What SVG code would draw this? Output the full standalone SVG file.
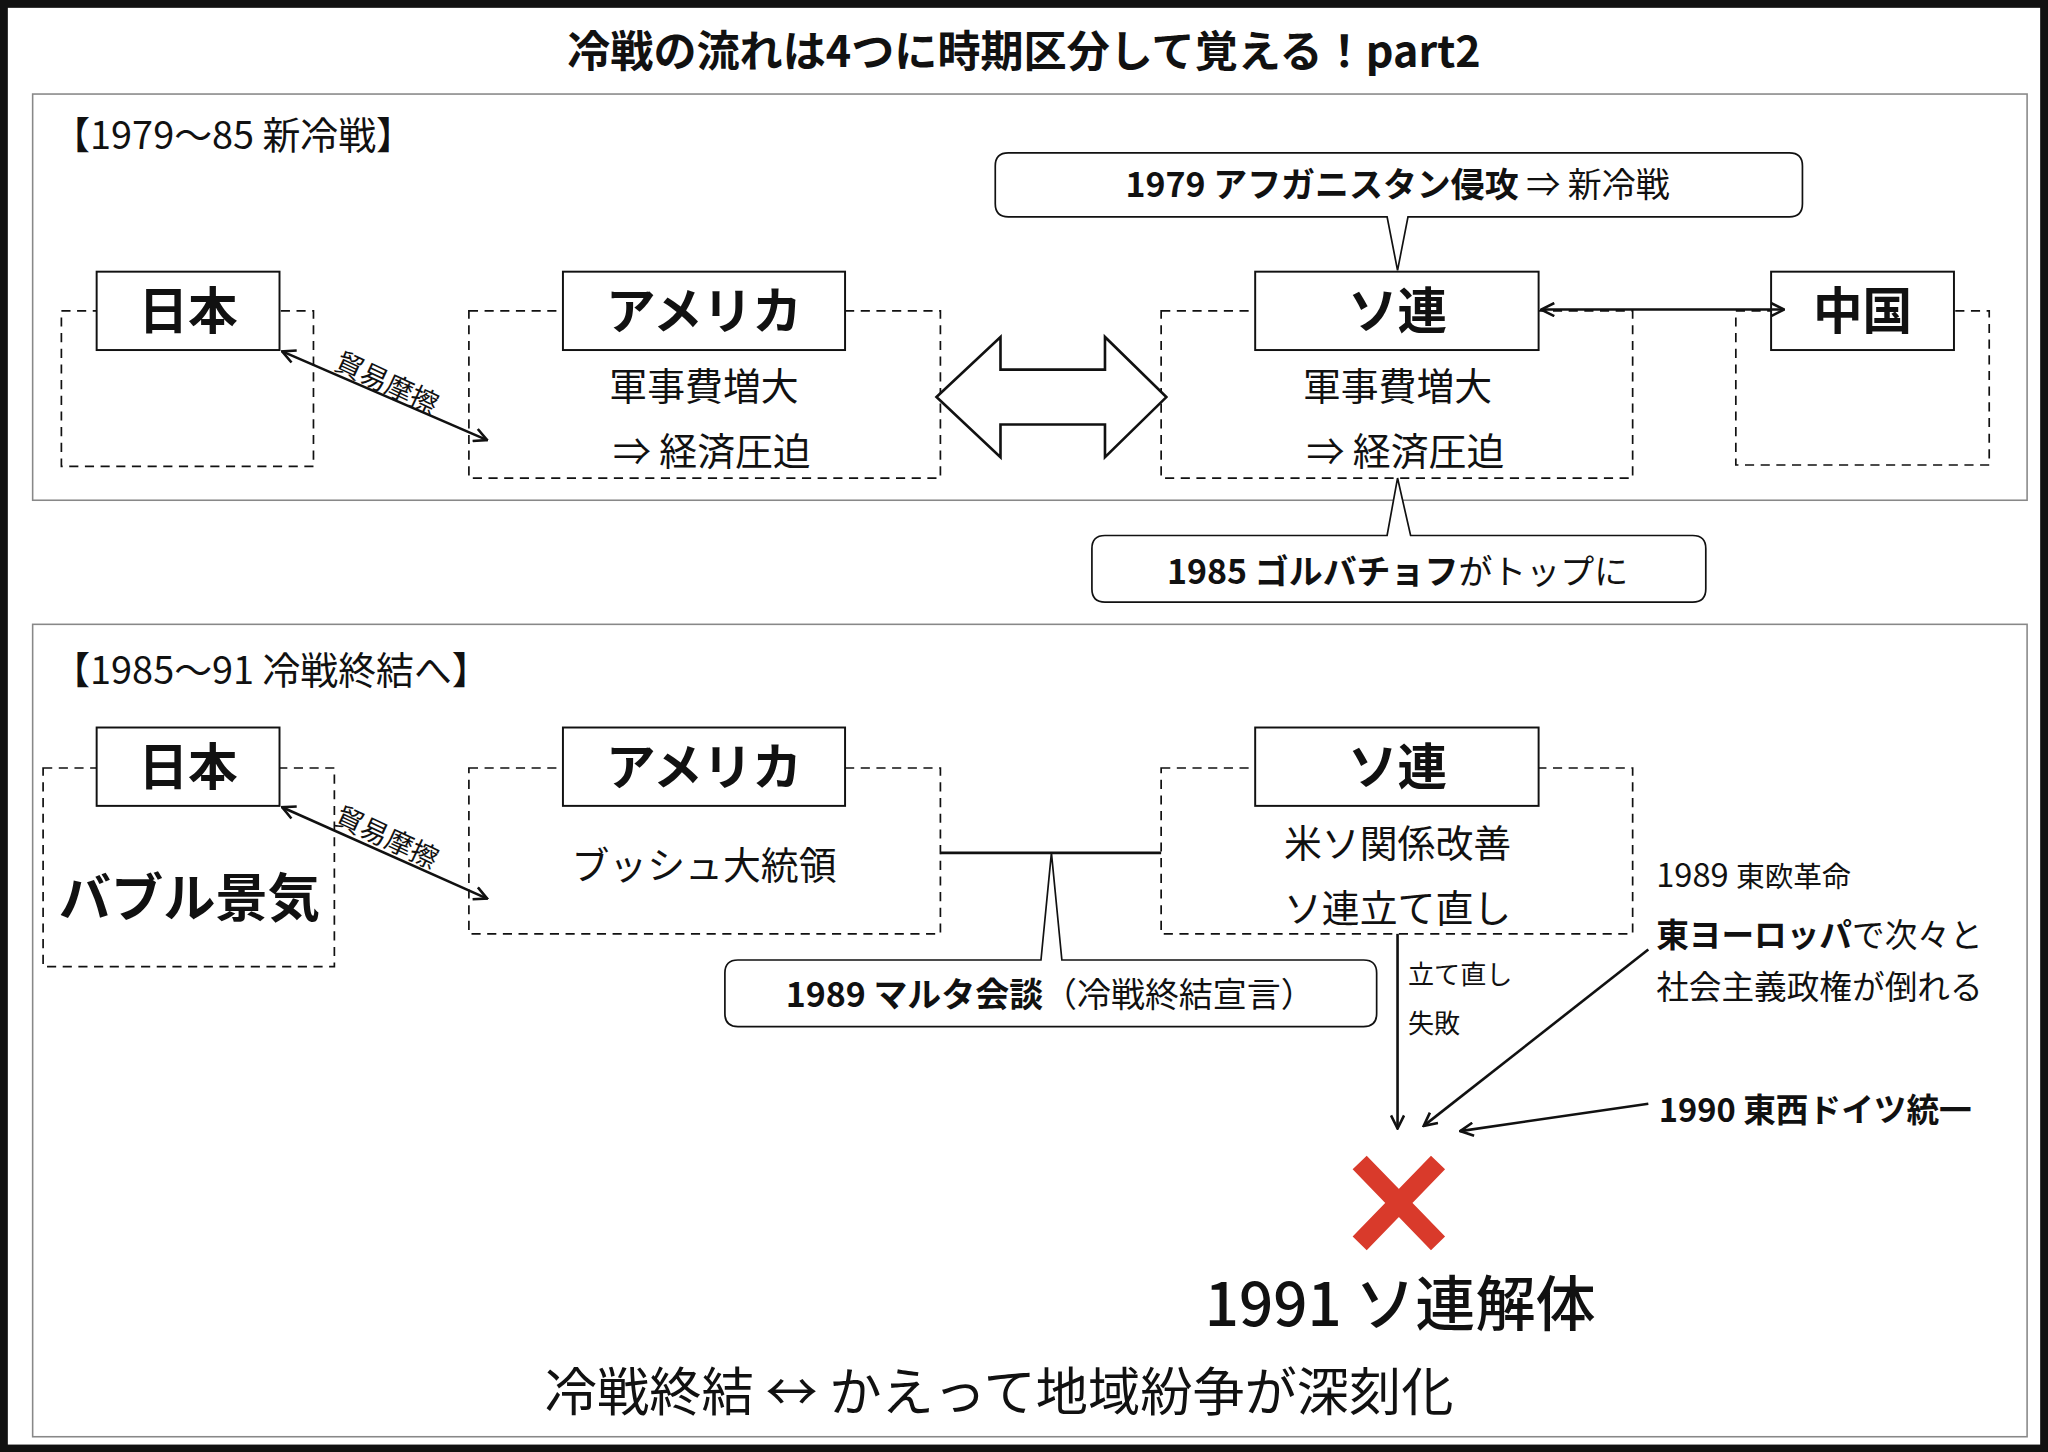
<svg xmlns="http://www.w3.org/2000/svg" width="2048" height="1452" viewBox="0 0 2048 1452">
<defs>
<style>
text{font-family:"Noto Sans CJK JP","Liberation Sans",sans-serif;fill:#111}
.b{font-weight:bold}
.sec{fill:#fff;stroke:#888;stroke-width:1.2}
.lab{fill:#fff;stroke:#111;stroke-width:1.5}
.dash{fill:none;stroke:#111;stroke-width:1.3;stroke-dasharray:7,5}
.ln{fill:none;stroke:#111;stroke-width:2}
.call{fill:#fff;stroke:#111;stroke-width:1.3}
</style>
<marker id="ah" viewBox="0 0 12 12" refX="11" refY="6" markerWidth="12" markerHeight="12" orient="auto-start-reverse" markerUnits="userSpaceOnUse"><path d="M1,1 L11,6 L1,11" fill="none" stroke="#111" stroke-width="2"/></marker>
</defs>
<rect width="2048" height="1452" fill="#fff"/>
<g transform="scale(1.30612)">
<rect x="3" y="3" width="1562" height="1106" fill="none" stroke="#111" stroke-width="6"/>
<text x="784" y="51" font-size="33" text-anchor="middle" class="b">冷戦の流れは4つに時期区分して覚える！part2</text>
<rect class="sec" x="25" y="72" width="1527" height="311"/>
<rect class="sec" x="25" y="478" width="1527" height="622"/>
<text x="40" y="114" font-size="29">【1979〜85 新冷戦】</text>
<text x="40" y="524" font-size="29">【1985〜91 冷戦終結へ】</text>

<g id="callout-afghan">
<path class="call" d="M772,117 H1370 Q1380,117 1380,127 V156 Q1380,166 1370,166 H1078 L1070,207 L1062,166 H772 Q762,166 762,156 V127 Q762,117 772,117 Z"/>
<text x="1070" y="151" font-size="26" text-anchor="middle"><tspan class="b">1979 アフガニスタン侵攻</tspan> ⇒ 新冷戦</text>
</g>
<g id="callout-gorba">
<path class="call" d="M846,410 H1062 L1070,366 L1080,410 H1296 Q1306,410 1306,420 V451 Q1306,461 1296,461 H846 Q836,461 836,451 V420 Q836,410 846,410 Z"/>
<text x="1070" y="447" font-size="26" text-anchor="middle"><tspan class="b">1985 ゴルバチョフ</tspan>がトップに</text>
</g>
<g id="callout-malta">
<path class="call" d="M565,735 H797 L805,653 L813,735 H1044 Q1054,735 1054,745 V776 Q1054,786 1044,786 H565 Q555,786 555,776 V745 Q555,735 565,735 Z"/>
<text x="804" y="771" font-size="26" text-anchor="middle"><tspan class="b">1989 マルタ会談</tspan>（冷戦終結宣言）</text>
</g>

<g id="japan1"><rect class="dash" x="47" y="238" width="193" height="119"/><rect class="lab" x="74" y="208" width="140" height="60"/><text x="144" y="252" font-size="38" class="b" text-anchor="middle">日本</text></g>
<g id="usa1"><rect class="dash" x="359" y="238" width="361" height="128"/><rect class="lab" x="431" y="208" width="216" height="60"/><text x="539" y="252" font-size="38" class="b" text-anchor="middle">アメリカ</text>
<text x="539" y="306" font-size="29" text-anchor="middle">軍事費増大</text><text x="545" y="356" font-size="29" text-anchor="middle">⇒ 経済圧迫</text></g>
<g id="ussr1"><rect class="dash" x="889" y="238" width="361" height="128"/><rect class="lab" x="961" y="208" width="217" height="60"/><text x="1070" y="252" font-size="38" class="b" text-anchor="middle">ソ連</text>
<text x="1070" y="306" font-size="29" text-anchor="middle">軍事費増大</text><text x="1076" y="356" font-size="29" text-anchor="middle">⇒ 経済圧迫</text></g>
<g id="china1"><rect class="dash" x="1329" y="238" width="194" height="118"/><rect class="lab" x="1356" y="208" width="140" height="60"/><text x="1426" y="252" font-size="38" class="b" text-anchor="middle">中国</text></g>

<g id="japan2"><rect class="dash" x="33" y="588" width="223" height="152"/><rect class="lab" x="74" y="557" width="140" height="60"/><text x="144" y="601" font-size="38" class="b" text-anchor="middle">日本</text>
<text x="145" y="702" font-size="40" class="b" text-anchor="middle">バブル景気</text></g>
<g id="usa2"><rect class="dash" x="359" y="588" width="361" height="127"/><rect class="lab" x="431" y="557" width="216" height="60"/><text x="539" y="601" font-size="38" class="b" text-anchor="middle">アメリカ</text>
<text x="539" y="673" font-size="29" text-anchor="middle">ブッシュ大統領</text></g>
<g id="ussr2"><rect class="dash" x="889" y="588" width="361" height="127"/><rect class="lab" x="961" y="557" width="217" height="60"/><text x="1070" y="601" font-size="38" class="b" text-anchor="middle">ソ連</text>
<text x="1070" y="656" font-size="29" text-anchor="middle">米ソ関係改善</text><text x="1070" y="706" font-size="29" text-anchor="middle">ソ連立て直し</text></g>

<g id="connectors">
<line class="ln" x1="1180" y1="237" x2="1366" y2="237" marker-start="url(#ah)" marker-end="url(#ah)"/>
<path d="M717,304 L766,258 L766,283 L846,283 L846,258 L893,304 L846,350 L846,325 L766,325 L766,350 Z" fill="#fff" stroke="#111" stroke-width="2"/>
<line class="ln" x1="216" y1="269" x2="373" y2="337" marker-start="url(#ah)" marker-end="url(#ah)"/>
<text transform="translate(293,300) rotate(25)" font-size="21" text-anchor="middle">貿易摩擦</text>
<line class="ln" x1="216" y1="618" x2="373" y2="688" marker-start="url(#ah)" marker-end="url(#ah)"/>
<text transform="translate(293,648) rotate(25)" font-size="21" text-anchor="middle">貿易摩擦</text>
<line class="ln" x1="720" y1="653" x2="889" y2="653"/>
<line class="ln" x1="1070" y1="715" x2="1070" y2="864" marker-end="url(#ah)"/>
<text x="1078" y="753" font-size="20">立て直し</text>
<text x="1078" y="791" font-size="20">失敗</text>
<line class="ln" x1="1262" y1="727" x2="1090" y2="862" marker-end="url(#ah)"/>
<line class="ln" x1="1262" y1="845" x2="1118" y2="866" marker-end="url(#ah)"/>
</g>

<g id="eastEurope">
<text x="1268" y="679" font-size="25">1989 <tspan font-size="22">東欧革命</tspan></text>
<text x="1268" y="725" font-size="25"><tspan class="b">東ヨーロッパ</tspan>で次々と</text>
<text x="1268" y="765" font-size="25">社会主義政権が倒れる</text>
</g>
<g id="germany"><text x="1270" y="859" font-size="25" class="b">1990 東西ドイツ統一</text></g>
<g id="collapse">
<path d="M1041,890 L1101,952 M1101,890 L1041,952" stroke="#d93a2b" stroke-width="15"/>
<text x="1072" y="1015" font-size="46" font-weight="500" text-anchor="middle">1991 ソ連解体</text>
</g>
<text x="765" y="1080" font-size="40" text-anchor="middle">冷戦終結 ↔ かえって地域紛争が深刻化</text>
</g>
</svg>
